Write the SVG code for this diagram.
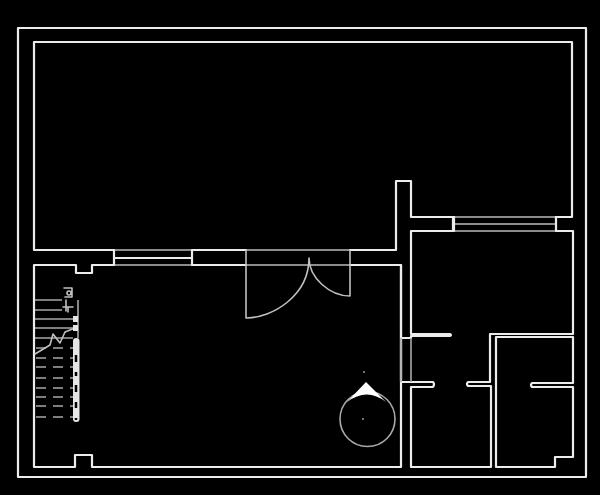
<svg xmlns="http://www.w3.org/2000/svg" width="600" height="495" viewBox="0 0 600 495">
<defs><filter id="b" x="0" y="0" width="100%" height="100%" filterUnits="userSpaceOnUse"><feGaussianBlur stdDeviation="0.45"/></filter></defs>
<style>
.w{fill:none;stroke:#ececec;stroke-width:2.2;stroke-linejoin:round;stroke-linecap:round}
.g{fill:none;stroke:#8c8c8c;stroke-width:2}
.t{fill:none;stroke:#c0c0c0;stroke-width:1.6;stroke-linecap:round;stroke-linejoin:round}
.s{fill:none;stroke:#a8a8a8;stroke-width:1.6}
.d{fill:none;stroke:#a8a8a8;stroke-width:1.6;stroke-dasharray:10 7}
</style>
<rect width="600" height="495" fill="#000"/>
<g filter="url(#b)">
<rect class="w" x="18" y="28" width="568" height="449"/>
<path class="g" d="M114,250H192M114,265H192M246,250H350M246,265H350M454,217H556M454,231H556M454,224H556"/>
<path class="w" d="M114,250H34V42H572V217H556M454,217H411V181H396V250H350M246,250H192V265H246M350,265H401V467H92V455H75V467H34V265H76V273H92V265H114V250M114,265V250"/>
<path class="w" d="M556,217V231H573V334H490V382H468Q466,384 468,386H491V467H411V387H433Q435,384 433,382H401V338H411M401,338V265M411,231H453V217M411,231V334H450Q452,335 450,336H411V338"/>
<path class="w" d="M496,337H573V383H532Q530,385 532,387H573V457H555V467H496Z"/>
<path class="w" d="M114,258H192"/>
<path class="s" d="M401,338V382M411,338V382"/>
<path class="w" d="M454,217V231"/>
<path class="t" d="M246,265V318C272,318 309,296 309,258C309,278 330,296 350,296V250M246,250V265"/>
<path class="s" d="M35,300H62M35,310H62M35,319H73M35,328H73M35,338H73M78,300V338"/>
<path class="d" d="M36,348H75M36,358H75M36,367H75M36,378H75M36,388H75M36,397H75M36,406H75M36,417H75"/>
<path class="t" d="M35,354L50,345L53,334L60,343L65,332L75,328M63,307H73M66,300V311M68,307V312"/>
<path class="t" d="M64,288H72V297H65M69,293m-2,0a2,2 0 1,0 4,0a2,2 0 1,0 -4,0"/>
<path d="M73,316h5v6h-5zM73,325h5v6h-5z" fill="#e6e6e6"/>
<rect x="73" y="338" width="6.500" height="84" rx="3" fill="#e6e6e6"/>
<path d="M76,355V362M76,372V376M76,385V392M76,402V408M76,418V420" stroke="#000" stroke-width="2.500"/>
<circle cx="367.500" cy="419" r="27.500" fill="none" stroke="#a8a8a8" stroke-width="1.600"/>
<path d="M366,382L347,402Q367,387 386,402Z" fill="#fff"/>
<circle cx="364" cy="372" r="1" fill="#999"/>
<circle cx="363" cy="419" r="1" fill="#999"/>
</g>
</svg>
